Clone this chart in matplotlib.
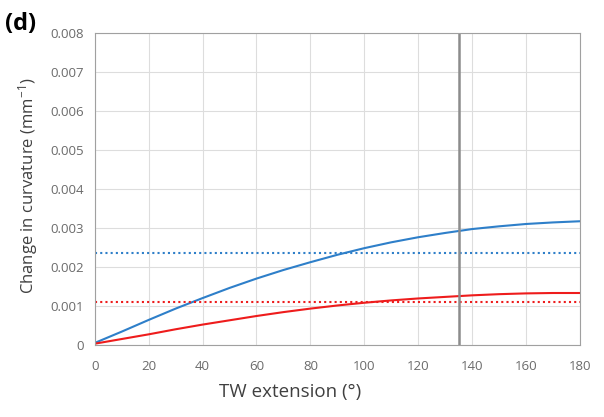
import matplotlib.pyplot as plt

# values
tw_ext = [0, 10, 20, 30, 40, 50, 60, 70, 80, 90, 100, 110, 120, 130, 135, 140, 150, 160, 170, 180]
blue = [0.00005, 0.00034, 0.00064, 0.00093, 0.00120, 0.00146, 0.00170, 0.00192, 0.00212, 0.00231,
        0.00248, 0.00263, 0.00276, 0.00287, 0.00292, 0.00297, 0.00304, 0.00310, 0.00314, 0.00317]
red = [0.00003, 0.00015, 0.00027, 0.00040, 0.00052, 0.00063, 0.00074, 0.00084, 0.00093, 0.00101,
       0.00108, 0.00114, 0.00119, 0.00123, 0.00125, 0.00127, 0.00130, 0.00132, 0.00133, 0.00133]
blue_ref = 0.00236
red_ref = 0.00110
v_line = 135

plt.rcParams['font.family'] = ['Open Sans', 'DejaVu Sans']
plt.rcParams['mathtext.fontset'] = 'custom'
plt.rcParams['mathtext.rm'] = 'Open Sans'
plt.rcParams['mathtext.it'] = 'Open Sans'

fig = plt.figure(figsize=(6.04, 4.17), dpi=100)
ax = fig.add_axes([0.157, 0.173, 0.803, 0.748])

ax.plot(tw_ext, blue, color='#2e7fc9', lw=1.5)
ax.plot(tw_ext, red, color='#ee1c1c', lw=1.5)
ax.axhline(blue_ref, color='#2e7fc9', lw=1.5, ls=(0, (1, 1.5)))
ax.axhline(red_ref, color='#ee1c1c', lw=1.5, ls=(0, (1, 1.5)))
ax.axvline(v_line, color='#8c8c8c', lw=1.8)

ax.set_xlim(0, 180)
ax.set_ylim(0, 0.008)
ax.set_xticks(range(0, 181, 20))
ax.set_yticks([i * 0.001 for i in range(9)])
ax.set_yticklabels(['0'] + ['%.3f' % (i * 0.001) for i in range(1, 9)])
ax.grid(color='#dddddd', lw=0.8)
ax.set_axisbelow(True)
for s in ax.spines.values():
    s.set_color('#a0a0a0')
ax.tick_params(length=0, colors='#6b6b6b', labelsize=9.5, pad=8)
ax.tick_params(axis='x', pad=11)

ax.set_xlabel('TW extension (°)', fontsize=13.5, color='#404040')
ax.xaxis.set_label_coords(0.402, -0.122)
ax.set_ylabel('Change in curvature (mm$^{\\mathrm{-1}}$)', fontsize=12, color='#404040')
ax.yaxis.set_label_coords(-0.113, 0.51)
fig.text(0.008, 0.928, '(d)', fontsize=17, fontweight='bold', color='black')

fig.savefig('out.png')
